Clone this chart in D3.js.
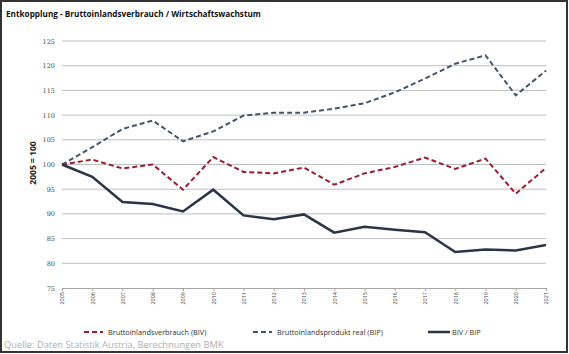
<!DOCTYPE html>
<html>
<head>
<meta charset="utf-8">
<script src="https://cdn.jsdelivr.net/npm/d3@7"></script>
<style>
body { margin: 0; background: #fff; }
text { font-family: "Open Sans", sans-serif; }
</style>
</head>
<body>
<script>
let years = [2005, 2006, 2007, 2008, 2009, 2010, 2011, 2012, 2013, 2014, 2015, 2016, 2017, 2018, 2019, 2020, 2021];
let biv = [100, 101, 99.2, 100, 94.9, 101.5, 98.5, 98.2, 99.4, 95.9, 98.2, 99.5, 101.4, 99.1, 101.2, 94.1, 99.3];
let bip = [100, 103.5, 107.2, 108.9, 104.7, 106.7, 109.9, 110.5, 110.5, 111.3, 112.4, 114.6, 117.4, 120.4, 122.1, 114.0, 119.0];
let ratio = [100, 97.5, 92.4, 92.0, 90.5, 94.9, 89.7, 88.9, 89.9, 86.2, 87.4, 86.8, 86.3, 82.3, 82.8, 82.6, 83.7];
let yTicks = [75, 80, 85, 90, 95, 100, 105, 110, 115, 120, 125];

let series = [
    {name: "Bruttoinlandsverbrauch (BIV)", values: biv, color: "#9b1c31", dash: "5,3", width: 2},
    {name: "Bruttoinlandsprodukt real (BIP)", values: bip, color: "#44546a", dash: "5,3", width: 2},
    {name: "BIV / BIP", values: ratio, color: "#2b3547", dash: null, width: 2.5}
];

function main(){
    let width = 569, height = 354;

    let svg = d3.select("body").append("svg")
        .attr("width", width)
        .attr("height", height);

    // frame
    svg.append("rect")
        .attr("x", 1).attr("y", 1)
        .attr("width", width - 3).attr("height", height - 3)
        .attr("fill", "none")
        .attr("stroke", "#333")
        .attr("stroke-width", 2);

    let x = d3.scaleLinear().domain([2005, 2021]).range([62, 546]);
    let y = d3.scaleLinear().domain([75, 125]).range([288, 41]);

    svg.append("text")
        .attr("x", 6).attr("y", 17)
        .attr("font-size", 8.2)
        .attr("font-weight", "bold")
        .attr("fill", "#111")
        .text("Entkopplung - Bruttoinlandsverbrauch / Wirtschaftswachstum");

    // grid
    svg.append("g").selectAll("line")
        .data(yTicks.filter(d => d > 75))
        .enter().append("line")
        .attr("x1", x(2005)).attr("x2", x(2021))
        .attr("y1", d => y(d)).attr("y2", d => y(d))
        .attr("stroke", "#bfbfbf")
        .attr("stroke-width", 1);

    let yAxis = svg.append("g")
        .attr("transform", "translate(" + x(2005) + ",0)")
        .call(d3.axisLeft(y).tickValues(yTicks).tickSize(0).tickPadding(7));
    yAxis.select(".domain").remove();
    yAxis.selectAll("text")
        .attr("font-size", 6.5)
        .attr("fill", "#444")
        .style("font-family", "DejaVu Serif, serif");

    let xAxis = svg.append("g")
        .attr("transform", "translate(0," + y(75) + ")")
        .call(d3.axisBottom(x).tickValues(years).tickFormat(d3.format("d")).tickSize(3).tickSizeOuter(0));
    xAxis.select(".domain").attr("stroke", "#a6a6a6");
    xAxis.selectAll(".tick line").attr("stroke", "#a6a6a6");
    xAxis.selectAll("text")
        .attr("font-size", 5.5)
        .attr("fill", "#444")
        .attr("text-anchor", "end")
        .attr("transform", "rotate(-90)")
        .attr("x", -4)
        .attr("y", 0)
        .attr("dy", "0.35em");

    svg.append("text")
        .attr("transform", "translate(36,163) rotate(-90)")
        .attr("text-anchor", "middle")
        .attr("font-size", 8.5)
        .attr("font-weight", "bold")
        .attr("fill", "#222")
        .text("2005 = 100");

    let line = d3.line()
        .x((d, i) => x(years[i]))
        .y(d => y(d));

    svg.append("g").selectAll("path")
        .data(series)
        .enter().append("path")
        .attr("d", d => line(d.values))
        .attr("fill", "none")
        .attr("stroke", d => d.color)
        .attr("stroke-width", d => d.width)
        .attr("stroke-dasharray", d => d.dash);

    // legend
    let legendX = [84, 253, 428];
    let legend = svg.append("g").selectAll("g")
        .data(series)
        .enter().append("g")
        .attr("transform", (d, i) => "translate(" + legendX[i] + ",332)");
    legend.append("line")
        .attr("x1", 0).attr("x2", d => d.dash ? 19 : 22)
        .attr("stroke", d => d.color)
        .attr("stroke-width", d => d.width)
        .attr("stroke-dasharray", d => d.dash);
    legend.append("text")
        .attr("x", 24)
        .attr("dy", "0.35em")
        .attr("font-size", 7.3)
        .attr("fill", "#333")
        .text(d => d.name);

    svg.append("text")
        .attr("x", 4).attr("y", 348)
        .attr("font-size", 9.3)
        .attr("fill", "#b0b0b0")
        .text("Quelle: Daten Statistik Austria, Berechnungen BMK");
}

main();
</script>
</body>
</html>
